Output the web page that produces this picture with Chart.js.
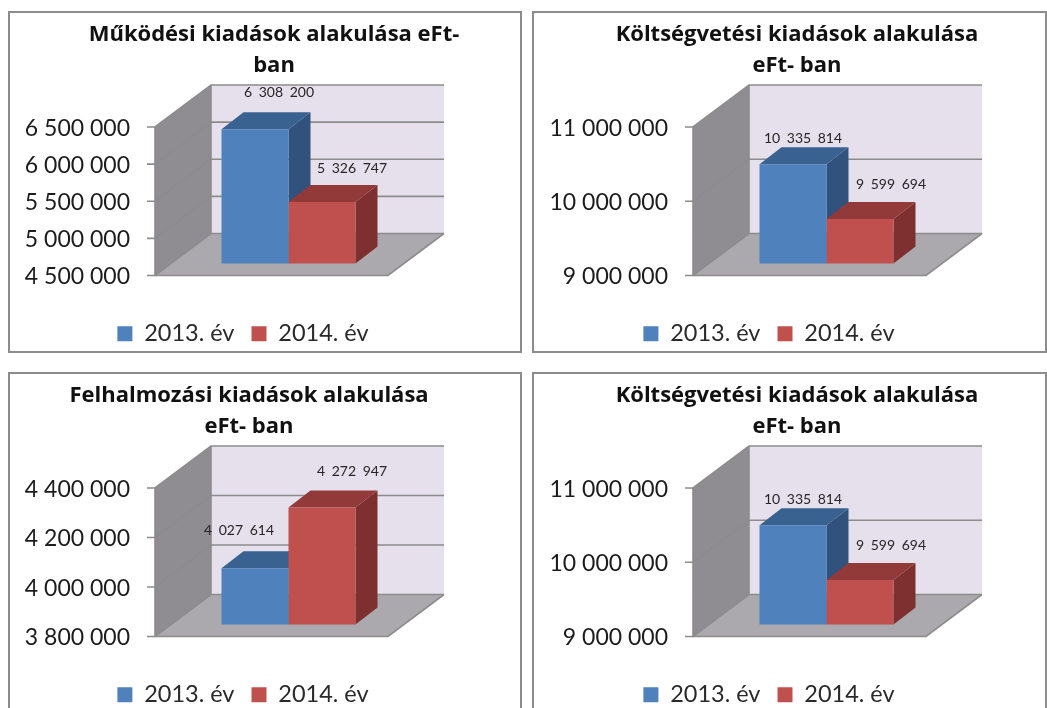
<!DOCTYPE html>
<html lang="hu">
<head>
<meta charset="utf-8">
<style>
html,body{margin:0;padding:0;background:#fff;width:1047px;height:708px;overflow:hidden}
.p{position:absolute}
.p canvas{position:absolute;left:0;top:0;filter:blur(0.45px)}
.b{position:absolute;left:0;top:0;right:0;bottom:0;border:2.5px solid #8c8c8c;box-sizing:border-box;pointer-events:none}
</style>
<script src="https://cdn.jsdelivr.net/npm/chart.js@4/dist/chart.umd.min.js"></script>
</head>
<body>
<script>
const seriesNames = ['2013. év', '2014. év'];

const titleA = ['Működési kiadások alakulása eFt-', 'ban'];
const valuesA2013 = [6308200];
const valuesA2014 = [5326747];
const ticksA = [4500000, 6500000, 500000];

const titleB = ['Költségvetési kiadások alakulása', 'eFt- ban'];
const valuesB2013 = [10335814];
const valuesB2014 = [9599694];
const ticksB = [9000000, 11000000, 1000000];

const titleC = ['Felhalmozási kiadások alakulása', 'eFt- ban'];
const valuesC2013 = [4027614];
const valuesC2014 = [4272947];
const ticksC = [3800000, 4400000, 200000];

const FONT = 'Lato, Carlito, Calibri, sans-serif';
const fmt = v => String(Math.round(v)).replace(/\B(?=(\d{3})+$)/g, ' ');

const WALL = {dx: 56, dy: -42};
const BAR = {shiftX: 17, shiftY: -12, dx: 22, dy: -17};
const FACE = [
  {front: '#4f81bd', top: '#3a6290', side: '#30527c'},
  {front: '#c0504d', top: '#923a39', side: '#7d302f'}
];

const box3d = {
  id: 'box3d',
  afterLayout(chart) {
    const c = chart.config.options.plugins.box3d;
    const t = chart.titleBlock, l = chart.legend;
    t.left = c.titleX - 250; t.right = c.titleX + 250; t.top = 8;
    l.left = c.legendX - 210; l.right = c.legendX + 210; l.top = 294; l.bottom = 342;
  },
  beforeDatasetsDraw(chart) {
    const {ctx, chartArea: a, scales: {y}} = chart;
    const W = WALL;
    ctx.save();
    ctx.fillStyle = '#e6e0ec';
    ctx.fillRect(a.left + W.dx, a.top + W.dy, a.width, a.height);
    poly(ctx, [[a.left, a.top], [a.left + W.dx, a.top + W.dy], [a.left + W.dx, a.bottom + W.dy], [a.left, a.bottom]], '#8f8d92');
    poly(ctx, [[a.left, a.bottom], [a.right, a.bottom], [a.right + W.dx, a.bottom + W.dy], [a.left + W.dx, a.bottom + W.dy]], '#aba9ae');
    ctx.strokeStyle = '#8c8c8c';
    ctx.lineWidth = 1.6;
    y.ticks.forEach(t => {
      const py = y.getPixelForValue(t.value);
      ctx.beginPath();
      ctx.moveTo(a.left - 8, py);
      ctx.lineTo(a.left, py);
      ctx.lineTo(a.left + W.dx, py + W.dy);
      ctx.lineTo(a.right + W.dx, py + W.dy);
      ctx.stroke();
    });
    ctx.beginPath();
    ctx.moveTo(a.left, a.top);
    ctx.lineTo(a.left, a.bottom);
    ctx.lineTo(a.right, a.bottom);
    ctx.lineTo(a.right + W.dx, a.bottom + W.dy);
    ctx.moveTo(a.left + W.dx, a.top + W.dy);
    ctx.lineTo(a.left + W.dx, a.bottom + W.dy);
    ctx.stroke();
    ctx.restore();
    // depth faces of the bars, left bar first so the right bar's top overlaps it
    chart.data.datasets.forEach((d, i) => {
      const el = chart.getDatasetMeta(i).data[0], f = FACE[i];
      const half = el.width / 2;
      const L = el.x - half + BAR.shiftX, R = el.x + half + BAR.shiftX;
      const T = el.y + BAR.shiftY, B = el.base + BAR.shiftY;
      poly(ctx, [[R, T], [R + BAR.dx, T + BAR.dy], [R + BAR.dx, B + BAR.dy], [R, B]], f.side);
      poly(ctx, [[L, T], [L + BAR.dx, T + BAR.dy], [R + BAR.dx, T + BAR.dy], [R, T]], f.top);
    });
  },
  beforeDatasetDraw(chart) {
    chart.ctx.save();
    chart.ctx.translate(BAR.shiftX, BAR.shiftY);
  },
  afterDatasetDraw(chart) { chart.ctx.restore(); },
  afterDatasetsDraw(chart) {
    const {ctx} = chart, c = chart.config.options.plugins.box3d;
    ctx.save();
    ctx.font = '14px ' + FONT;
    ctx.fillStyle = '#262626';
    ctx.textAlign = 'center';
    ctx.textBaseline = 'middle';
    ctx.wordSpacing = '3px';
    chart.data.datasets.forEach((d, i) => {
      const el = chart.getDatasetMeta(i).data[0];
      const o = c.labelOffsets[i];
      ctx.fillText(fmt(d.data[0]), el.x + BAR.shiftX + o[0], el.y + BAR.shiftY + o[1]);
    });
    ctx.restore();
  }
};

function poly(ctx, pts, fill) {
  ctx.beginPath();
  pts.forEach((p, i) => i ? ctx.lineTo(p[0], p[1]) : ctx.moveTo(p[0], p[1]));
  ctx.closePath();
  ctx.fillStyle = fill;
  ctx.fill();
}

function panel(cfg) {
  const wrap = document.createElement('div');
  wrap.className = 'p';
  wrap.style.cssText = `left:${cfg.x}px;top:${cfg.y}px;width:${cfg.w}px;height:${cfg.h}px`;
  const cv = document.createElement('canvas');
  cv.width = cfg.w; cv.height = cfg.h;
  cv.style.width = cfg.w + 'px'; cv.style.height = cfg.h + 'px';
  wrap.appendChild(cv);
  const b = document.createElement('div');
  b.className = 'b';
  wrap.appendChild(b);
  document.body.appendChild(wrap);
  new Chart(cv, {
    type: 'bar',
    data: {
      labels: [''],
      datasets: [
        {label: seriesNames[0], data: cfg.a, base: cfg.t[0], backgroundColor: FACE[0].front, clip: false},
        {label: seriesNames[1], data: cfg.b, base: cfg.t[0], backgroundColor: FACE[1].front, clip: false}
      ]
    },
    plugins: [box3d],
    options: {
      responsive: false,
      animation: false,
      events: [],
      layout: {padding: {left: 0, right: cfg.w - cfg.axis - 233, top: 54, bottom: 27}},
      datasets: {bar: {barPercentage: 1, categoryPercentage: 134 / 233, borderWidth: 0}},
      scales: {
        x: {display: false},
        y: {
          min: cfg.t[0], max: cfg.t[1],
          grid: {display: false},
          border: {display: false},
          afterFit: s => { s.width = cfg.axis; },
          ticks: {
            stepSize: cfg.t[2], padding: 17, color: '#1c1c1c', labelOffset: 1.5,
            font: {family: FONT, size: 23},
            callback: v => fmt(v)
          }
        }
      },
      plugins: {
        tooltip: {enabled: false},
        title: {
          display: true, text: cfg.title, color: '#111',
          font: {family: '"Open Sans", ' + FONT, size: 22, weight: 'bold', lineHeight: 31 / 22},
          padding: 0
        },
        legend: {
          position: 'bottom',
          labels: {
            boxWidth: 15, boxHeight: 15, padding: 17, color: '#2a2a2a',
            font: {family: FONT, size: 23.5, lineHeight: 1}
          }
        },
        box3d: {titleX: cfg.titleX, legendX: cfg.legendX, labelOffsets: cfg.off}
      }
    }
  });
}

panel({x: 8, y: 11, w: 514, h: 342, axis: 147, title: titleA, a: valuesA2013, b: valuesA2014, t: ticksA,
  titleX: 266, legendX: 235, off: [[24, -37], [30, -34]]});
panel({x: 532, y: 11, w: 515, h: 342, axis: 161, title: titleB, a: valuesB2013, b: valuesB2014, t: ticksB,
  titleX: 265, legendX: 237, off: [[10, -26], [31, -34]]});
panel({x: 8, y: 372, w: 514, h: 342, axis: 147, title: titleC, a: valuesC2013, b: valuesC2014, t: ticksC,
  titleX: 241, legendX: 235, off: [[-16, -38], [30, -36]]});
panel({x: 532, y: 372, w: 515, h: 342, axis: 161, title: titleB, a: valuesB2013, b: valuesB2014, t: ticksB,
  titleX: 265, legendX: 237, off: [[10, -26], [31, -34]]});
</script>
</body>
</html>
